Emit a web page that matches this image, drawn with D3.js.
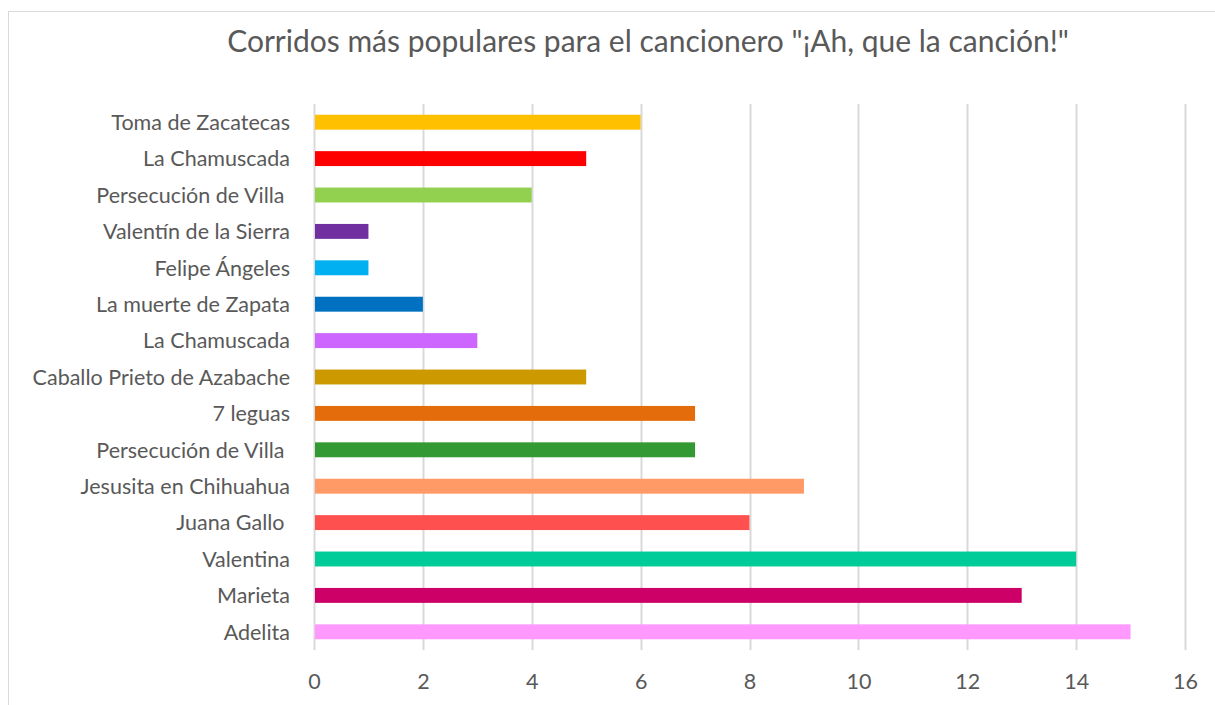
<!DOCTYPE html>
<html>
<head>
<script src="https://d3js.org/d3.v7.min.js"></script>
<style>
  body { margin: 0; background: #fff; }
  text { font-family: Lato, "Open Sans", sans-serif; }
  .axis text { fill: #595959; font-size: 21.5px; }
  .axis path, .axis line { stroke: none; }
  .title { fill: #595959; font-size: 30px; }
</style>
</head>
<body>
<script>
// data, bottom to top
var songs = ["Adelita", "Marieta", "Valentina", "Juana Gallo ", "Jesusita en Chihuahua",
  "Persecución de Villa ", "7 leguas", "Caballo Prieto de Azabache", "La Chamuscada",
  "La muerte de Zapata", "Felipe Ángeles", "Valentín de la Sierra", "Persecución de Villa ",
  "La Chamuscada", "Toma de Zacatecas"];
var counts = [15, 13, 14, 8, 9, 7, 7, 5, 3, 2, 1, 1, 4, 5, 6];
var barColors = ["#FF99FF", "#CC0066", "#00CC99", "#FF5050", "#FF9966",
  "#339933", "#E46C0A", "#CC9900", "#CC66FF",
  "#0070C0", "#00B0F0", "#7030A0", "#92D050",
  "#FF0000", "#FFC000"];
var xTicks = [0, 2, 4, 6, 8, 10, 12, 14, 16];

var width = 1215, height = 705;
var plot = {left: 314, right: 1185, top: 104, bottom: 650};

var svg = d3.select("body").append("svg")
  .attr("width", width)
  .attr("height", height);

// chart frame
svg.append("rect")
  .attr("x", 8.5).attr("y", 11.5)
  .attr("width", 1230).attr("height", 720)
  .style("fill", "#fff")
  .style("stroke", "#d9d9d9")
  .style("stroke-width", 1);

svg.append("text")
  .attr("class", "title")
  .attr("x", 648).attr("y", 52)
  .attr("text-anchor", "middle")
  .text("Corridos más populares para el cancionero \"¡Ah, que la canción!\"");

var x = d3.scaleLinear().domain([0, 16]).range([plot.left, plot.right]);

var idx = d3.range(songs.length).reverse(); // top row first
var y = d3.scaleBand().domain(idx).range([plot.top, plot.bottom]).paddingInner(0.59).paddingOuter(0.295);

// gridlines
svg.append("g").selectAll("line")
  .data(xTicks)
  .enter().append("line")
  .attr("x1", function(d){ return Math.round(x(d)) + 0.5; })
  .attr("x2", function(d){ return Math.round(x(d)) + 0.5; })
  .attr("y1", plot.top).attr("y2", plot.bottom)
  .style("stroke", "#d9d9d9")
  .style("stroke-width", 2);

// bars
svg.append("g").selectAll("rect")
  .data(idx)
  .enter().append("rect")
  .attr("x", x(0) + 1)
  .attr("y", function(i){ return y(i); })
  .attr("width", function(i){ return x(counts[i]) - x(0) - 1; })
  .attr("height", y.bandwidth())
  .style("fill", function(i){ return barColors[i]; });

// axes
var yAxis = d3.axisLeft(y).tickSize(0).tickPadding(24)
  .tickFormat(function(i){ return songs[i]; });
svg.append("g").attr("class", "axis")
  .attr("transform", "translate(" + plot.left + ",0)")
  .call(yAxis)
  .selectAll("text").attr("dy", "0.36em").style("white-space", "pre");

var xAxis = d3.axisBottom(x).tickValues(xTicks).tickSize(0).tickPadding(24);
svg.append("g").attr("class", "axis")
  .attr("transform", "translate(0," + plot.bottom + ")")
  .call(xAxis);
</script>
</body>
</html>
